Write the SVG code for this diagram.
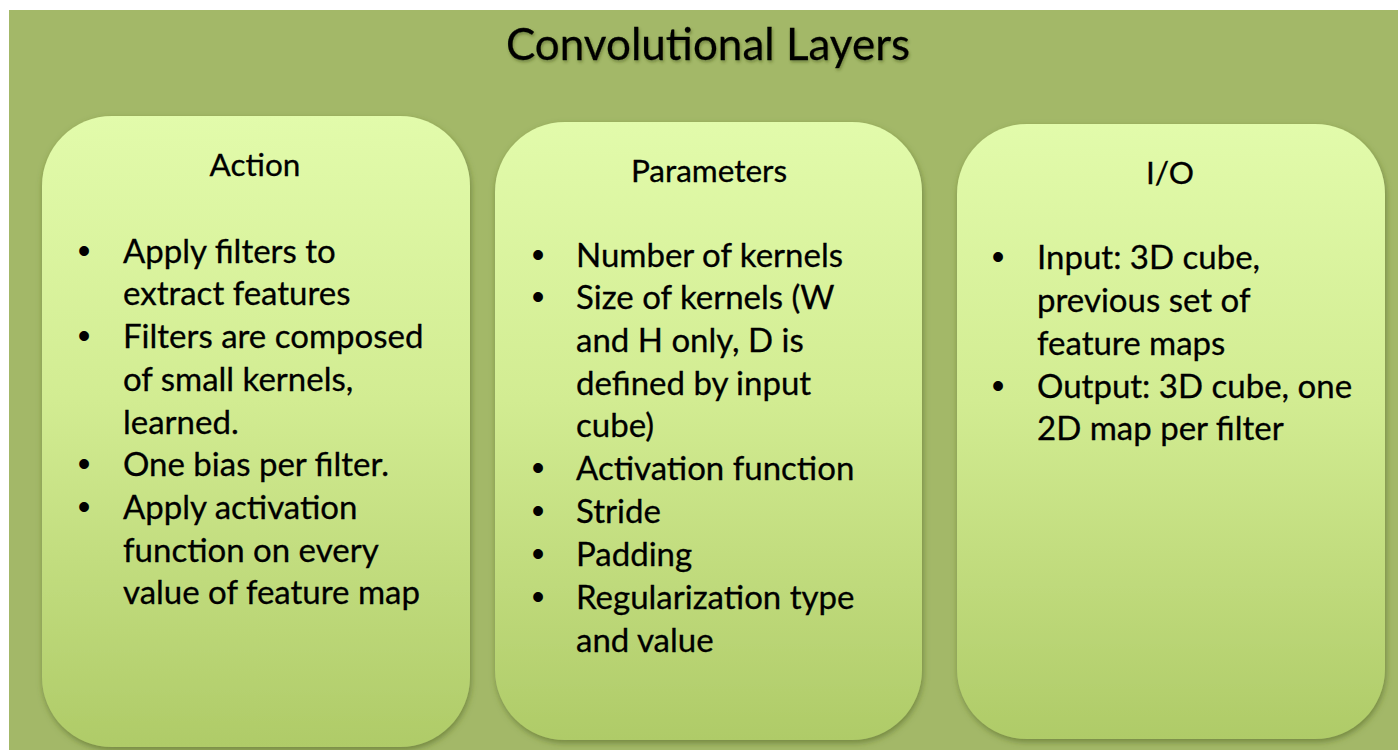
<svg xmlns="http://www.w3.org/2000/svg" width="1398" height="750" viewBox="0 0 1398 750">
<defs>
<linearGradient id="boxGrad" x1="0" y1="0" x2="0" y2="1">
<stop offset="0" stop-color="#e2fbab"/>
<stop offset="0.45" stop-color="#d2ec92"/>
<stop offset="1" stop-color="#afcb68"/>
</linearGradient>
<filter id="shadow" x="-10%" y="-10%" width="120%" height="120%">
<feDropShadow dx="1" dy="3" stdDeviation="3" flood-color="#4d5e22" flood-opacity="0.55"/>
</filter>
<filter id="tshadow" x="-5%" y="-20%" width="110%" height="140%">
<feDropShadow dx="1" dy="2" stdDeviation="1.5" flood-color="#3c4a18" flood-opacity="0.45"/>
</filter>
<style>
.box { fill: url(#boxGrad); filter: url(#shadow); }
.title { font-family: Lato, "Liberation Sans", sans-serif; font-size: 44px; fill: #000; text-anchor: middle; stroke: #000; stroke-width: 0.3px; }
.head { font-family: Lato, "Liberation Sans", sans-serif; font-size: 31.5px; fill: #000; text-anchor: middle; stroke: #000; stroke-width: 0.3px; }
.body { font-family: Lato, "Liberation Sans", sans-serif; font-size: 33px; fill: #000; stroke: #000; stroke-width: 0.3px; }
.bul { font-family: "Liberation Sans", sans-serif; font-size: 36px; fill: #000; text-anchor: middle; }
</style>
</defs>
<rect x="0" y="0" width="1398" height="750" fill="#ffffff"/>
<rect x="9" y="10" width="1389" height="740" fill="#a3b868"/>
<text class="title" x="708" y="60" filter="url(#tshadow)">Convolutional Layers</text>

<g id="action">
<rect class="box" x="42" y="116" width="428" height="631" rx="70" ry="70"/>
<text class="head" x="255" y="176">Action</text>
<text class="bul" x="84" y="263">•</text>
<text class="body" x="123" y="263">Apply filters to</text>
<text class="body" x="123" y="305">extract features</text>
<text class="bul" x="84" y="348">•</text>
<text class="body" x="123" y="348">Filters are composed</text>
<text class="body" x="123" y="391">of small kernels,</text>
<text class="body" x="123" y="434">learned.</text>
<text class="bul" x="84" y="476">•</text>
<text class="body" x="123" y="476">One bias per filter.</text>
<text class="bul" x="84" y="519">•</text>
<text class="body" x="123" y="519">Apply activation</text>
<text class="body" x="123" y="562">function on every</text>
<text class="body" x="123" y="604">value of feature map</text>
</g>

<g id="parameters">
<rect class="box" x="495" y="122" width="427" height="618" rx="70" ry="70"/>
<text class="head" x="709" y="182">Parameters</text>
<text class="bul" x="538" y="267">•</text>
<text class="body" x="576" y="267">Number of kernels</text>
<text class="bul" x="538" y="309">•</text>
<text class="body" x="576" y="309">Size of kernels (W</text>
<text class="body" x="576" y="352">and H only, D is</text>
<text class="body" x="576" y="395">defined by input</text>
<text class="body" x="576" y="437">cube)</text>
<text class="bul" x="538" y="480">•</text>
<text class="body" x="576" y="480">Activation function</text>
<text class="bul" x="538" y="523">•</text>
<text class="body" x="576" y="523">Stride</text>
<text class="bul" x="538" y="566">•</text>
<text class="body" x="576" y="566">Padding</text>
<text class="bul" x="538" y="609">•</text>
<text class="body" x="576" y="609">Regularization type</text>
<text class="body" x="576" y="652">and value</text>
</g>

<g id="io">
<rect class="box" x="957" y="124" width="428" height="615" rx="70" ry="70"/>
<text class="head" x="1170" y="184">I/O</text>
<text class="bul" x="998" y="269">•</text>
<text class="body" x="1037" y="269">Input: 3D cube,</text>
<text class="body" x="1037" y="312">previous set of</text>
<text class="body" x="1037" y="355">feature maps</text>
<text class="bul" x="998" y="398">•</text>
<text class="body" x="1037" y="398">Output: 3D cube, one</text>
<text class="body" x="1037" y="440">2D map per filter</text>
</g>

<g id="connectors"></g>
</svg>
